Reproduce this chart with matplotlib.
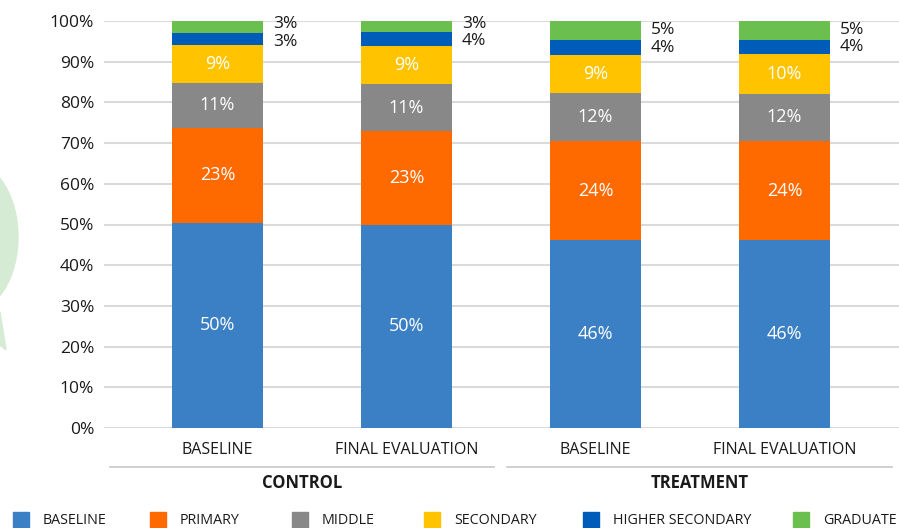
import matplotlib
matplotlib.use('Agg')
import matplotlib.pyplot as plt
from matplotlib import font_manager
from matplotlib.patches import Rectangle, Ellipse, Polygon
from matplotlib.lines import Line2D
import numpy as np

# data (percent of respondents by education level)
bar_labels = ['BASELINE', 'FINAL EVALUATION', 'BASELINE', 'FINAL EVALUATION']
groups = ['CONTROL', 'TREATMENT']
levels = ['BASELINE', 'PRIMARY', 'MIDDLE', 'SECONDARY', 'HIGHER SECONDARY', 'GRADUATE']
baseline_lvl = [50.4, 50.0, 46.2, 46.2]
primary = [23.4, 23.0, 24.3, 24.3]
middle = [10.9, 11.4, 11.8, 11.6]
secondary = [9.4, 9.4, 9.4, 9.7]
higher_secondary = [2.9, 3.6, 3.7, 3.6]
graduate = [3.0, 2.6, 4.6, 4.6]
colors = ['#3b80c4', '#ff6a00', '#888888', '#ffc300', '#005cb9', '#6bbf4e']

installed = {f.name for f in font_manager.fontManager.ttflist}
narrow = 'Liberation Sans Narrow' if 'Liberation Sans Narrow' in installed else 'Open Sans'
num_font = 'Open Sans'

series = [baseline_lvl, primary, middle, secondary, higher_secondary, graduate]

fig = plt.figure(figsize=(8.99, 5.28), dpi=100)
ax = fig.add_axes([104 / 899, 100 / 528, 795 / 899, 407 / 528])

# faint logo watermark cut off at the left edge
fig.add_artist(Ellipse((-30 / 899, (528 - 237) / 528), 96 / 899, 150 / 528,
                       transform=fig.transFigure, color='#d6ebd4', zorder=0))
fig.add_artist(Polygon([(0, (528 - 312) / 528), (6 / 899, (528 - 350) / 528), (0, (528 - 345) / 528)],
                       transform=fig.transFigure, color='#d6ebd4', zorder=0))

x = np.arange(len(bar_labels))
width = 0.481
bottom = np.zeros(len(x))
outside = []
for i, vals in enumerate(series):
    vals = np.array(vals)
    ax.bar(x, vals, width, bottom=bottom, color=colors[i], zorder=3)
    if i < 4:
        for j in range(len(x)):
            ax.text(x[j], bottom[j] + vals[j] / 2, f'{vals[j]:.0f}%', ha='center', va='center',
                    color='white', fontsize=13, family=num_font, zorder=4)
    else:
        outside.append((bottom + vals / 2, vals))
    bottom += vals

# small top segments: labels to the right of the bar, pushed apart so they don't collide
min_gap = 4.3
for j in range(len(x)):
    (y_hs, v_hs), (y_gr, v_gr) = [(o[0][j], o[1][j]) for o in outside]
    if y_gr - y_hs < min_gap:
        mid = (y_gr + y_hs) / 2
        y_hs, y_gr = mid - min_gap / 2, mid + min_gap / 2
    for yy, vv in [(y_hs, v_hs), (y_gr, v_gr)]:
        ax.text(x[j] + width / 2 + 0.053, yy, f'{vv:.0f}%', ha='left', va='center',
                color='#1a1a1a', fontsize=12.5, family=num_font, zorder=4)

ax.set_ylim(0, 100)
ax.set_xlim(-0.6005, 3.606)
ax.set_yticks(np.arange(0, 101, 10))
ax.set_yticklabels([f'{v}%' for v in range(0, 101, 10)], family=num_font, fontsize=12.5, color='#1a1a1a')
ax.yaxis.grid(True, color='#dadada', linewidth=1.5, zorder=0)
ax.set_axisbelow(True)
ax.tick_params(axis='y', length=0, pad=7)
ax.set_xticks(x)
ax.set_xticklabels(bar_labels, family=narrow, fontsize=11.5, color='#1a1a1a')
ax.tick_params(axis='x', length=0, pad=10)
for s in ax.spines.values():
    s.set_visible(False)

# group separators and group names
xt = ax.get_xaxis_transform()
for g, (x0, x1, xc) in zip(groups, [(-0.569, 1.463, 0.447), (1.532, 3.567, 2.551)]):
    ax.add_line(Line2D([x0, x1], [-0.095, -0.095], transform=xt, color='#c8c8c8',
                       linewidth=1.2, clip_on=False))
    ax.text(xc, -0.135, g, transform=xt, ha='center', va='center', family=narrow,
            fontsize=12, fontweight='bold', color='#1a1a1a')

# legend along the bottom edge
sq_x = [13, 150, 292, 424, 583, 793]
for lab, c, px in zip(levels, colors, sq_x):
    fig.add_artist(Rectangle((px / 899, 0), 16 / 899, 16 / 528, transform=fig.transFigure,
                             color=c))
    fig.text((px + 30) / 899, 8 / 528, lab, ha='left', va='center', family=narrow,
             fontsize=10.3, color='#1a1a1a')

fig.savefig('out.png', dpi=100)
